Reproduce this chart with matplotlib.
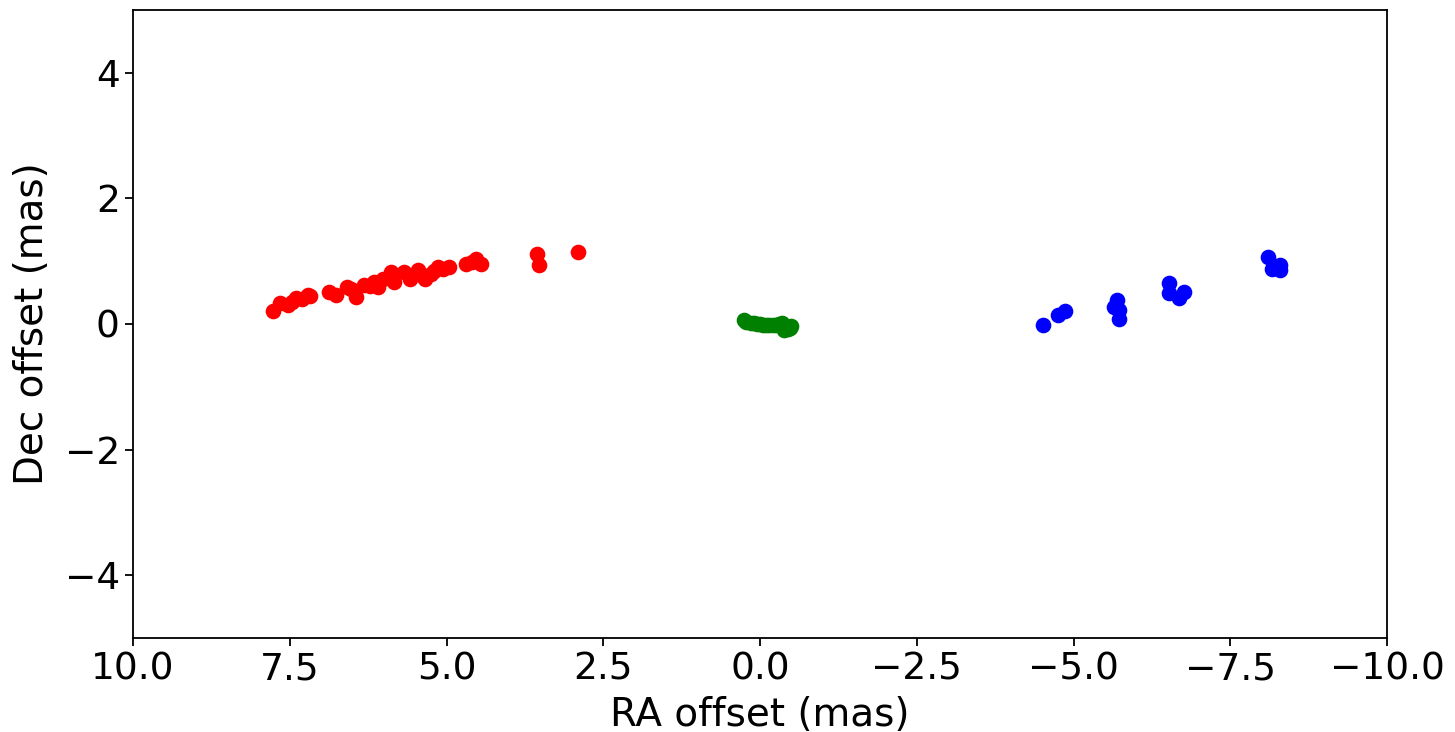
import numpy as np
import matplotlib.pyplot as plt

# red component
red_ra = [7.77, 7.66, 7.53, 7.47, 7.40, 7.30, 7.21, 7.18, 6.87, 6.76, 6.58, 6.52, 6.44,
          6.31, 6.22, 6.15, 6.10, 6.02, 5.89, 5.83, 5.67, 5.59, 5.46, 5.40, 5.35, 5.25,
          5.20, 5.14, 5.05, 4.96, 4.69, 4.60, 4.53, 4.45, 3.55, 3.53, 2.90]
red_dec = [0.21, 0.33, 0.30, 0.35, 0.41, 0.40, 0.46, 0.44, 0.51, 0.46, 0.59, 0.55, 0.43,
           0.62, 0.60, 0.67, 0.59, 0.72, 0.83, 0.67, 0.83, 0.72, 0.86, 0.78, 0.72, 0.80,
           0.85, 0.91, 0.88, 0.91, 0.96, 0.98, 1.03, 0.96, 1.12, 0.94, 1.15]

# green component
green_ra = [0.25, 0.22, 0.15, 0.10, 0.05, 0.00, -0.05, -0.10, -0.15, -0.20, -0.25,
            -0.30, -0.35, -0.40, -0.45, -0.50, -0.38, -0.48]
green_dec = [0.07, 0.03, 0.02, 0.01, 0.00, 0.00, -0.01, -0.01, -0.02, -0.02, -0.02,
             0.00, 0.02, -0.05, -0.08, -0.03, -0.10, -0.06]

# blue component
blue_ra = [-4.51, -4.76, -4.87, -5.69, -5.64, -5.72, -5.72, -6.52, -6.52, -6.68, -6.76,
           -8.11, -8.16, -8.30, -8.30]
blue_dec = [-0.02, 0.14, 0.20, 0.38, 0.27, 0.22, 0.08, 0.65, 0.49, 0.41, 0.51,
            1.07, 0.88, 0.94, 0.86]

fig = plt.figure(figsize=(14.55, 7.32), dpi=100)
ax = fig.add_axes([133 / 1455, 1 - 638 / 732, 1254 / 1455, 628 / 732])

ax.scatter(red_ra, red_dec, color='red', s=105)
ax.scatter(green_ra, green_dec, color='green', s=105)
ax.scatter(blue_ra, blue_dec, color='blue', s=105)

ax.set_xlim(10, -10)
ax.set_ylim(-5, 5)
ax.set_xlabel('RA offset (mas)', fontsize=28, labelpad=6)
ax.set_ylabel('Dec offset (mas)', fontsize=28, labelpad=10)
ax.tick_params(labelsize=27, length=6, width=1.3)
for sp in ax.spines.values():
    sp.set_linewidth(1.3)

fig.savefig('out.png', dpi=100)
